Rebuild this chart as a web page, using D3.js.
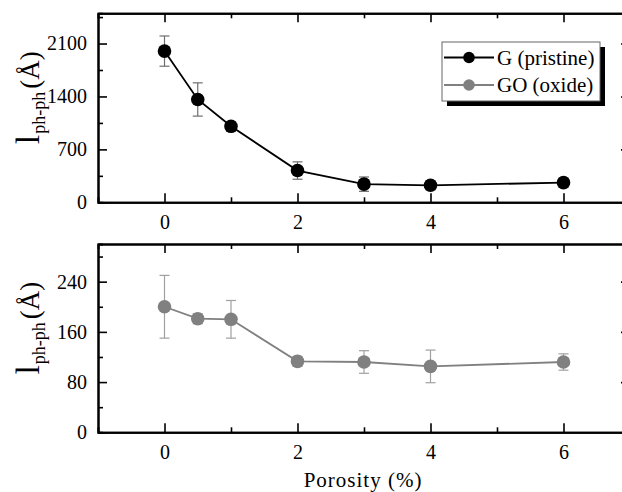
<!DOCTYPE html>
<html>
<head>
<meta charset="utf-8">
<script src="https://cdn.jsdelivr.net/npm/d3@7"></script>
<style>
  body { margin: 0; background: #fff; }
  svg { display: block; }
  svg text { font-family: "Liberation Serif", "Times New Roman", serif; }
  .axis path, .axis line { stroke: #000; }
  .axis path { stroke-width: 2; }
  .axis line { stroke-width: 1.6; }
  .axis text { font-size: 20px; fill: #000; }
</style>
</head>
<body>
<div id="chart"></div>
<script>
// Data
const porosity = [0, 0.5, 1, 2, 3, 4, 6];
const gPristine = [2000, 1360, 1005, 420, 240, 225, 260];
const gPristineErr = [200, 220, 60, 115, 95, 60, 60];
const goOxide = [200, 181, 180, 113, 112, 105, 112];
const goOxideErr = [50, 8, 30, 8, 18, 26, 13];

const xTicks = [0, 2, 4, 6];
const xMinor = [1, 3, 5];
const topTicks = [0, 700, 1400, 2100];
const topMinor = [350, 1050, 1750, 2450];
const bottomTicks = [0, 80, 160, 240];
const bottomMinor = [40, 120, 200, 280];
const legendLabels = ["G (pristine)", "GO (oxide)"];

const width = 622, height = 492;

const svg = d3.select("#chart").append("svg")
  .attr("width", width)
  .attr("height", height);

svg.append("rect").attr("width", width).attr("height", height).attr("fill", "#fff");

const x = d3.scaleLinear().domain([-1, 7]).range([98, 630]);

const panels = [
  { vals: gPristine, errs: gPristineErr, domain: [0, 2500], range: [202.3, 13.3],
    ticks: topTicks, minor: topMinor, line: "#000", fill: "#000", err: "#6e6e6e" },
  { vals: goOxide, errs: goOxideErr, domain: [0, 300], range: [432.3, 244],
    ticks: bottomTicks, minor: bottomMinor, line: "#808080", fill: "#808080", err: "#a0a0a0" }
];

panels.forEach(p => {
  const y = d3.scaleLinear().domain(p.domain).range(p.range);
  const g = svg.append("g");
  const bottom = p.range[0], top = p.range[1];
  const left = x.range()[0], right = x.range()[1];

  // minor ticks
  g.append("g").attr("class", "axis").attr("transform", `translate(0,${bottom})`)
    .call(d3.axisBottom(x).tickValues(xMinor).tickSize(-5).tickFormat(""));
  g.append("g").attr("class", "axis").attr("transform", `translate(0,${top})`)
    .call(d3.axisTop(x).tickValues(xMinor).tickSize(-5).tickFormat(""));
  g.append("g").attr("class", "axis").attr("transform", `translate(${left},0)`)
    .call(d3.axisLeft(y).tickValues(p.minor).tickSize(-5).tickFormat(""));
  g.append("g").attr("class", "axis").attr("transform", `translate(${right},0)`)
    .call(d3.axisRight(y).tickValues(p.minor).tickSize(-5).tickFormat(""));

  // major axes
  g.append("g").attr("class", "axis").attr("transform", `translate(0,${bottom})`)
    .call(d3.axisBottom(x).tickValues(xTicks).tickSizeInner(-9).tickSizeOuter(0).tickPadding(13).tickFormat(d3.format("d")));
  g.append("g").attr("class", "axis").attr("transform", `translate(0,${top})`)
    .call(d3.axisTop(x).tickValues(xTicks).tickSizeInner(-9).tickSizeOuter(0).tickFormat(""));
  g.append("g").attr("class", "axis").attr("transform", `translate(${left},0)`)
    .call(d3.axisLeft(y).tickValues(p.ticks).tickSizeInner(-9).tickSizeOuter(0).tickPadding(11).tickFormat(d3.format("d")));
  g.append("g").attr("class", "axis").attr("transform", `translate(${right},0)`)
    .call(d3.axisRight(y).tickValues(p.ticks).tickSizeInner(-9).tickSizeOuter(0).tickFormat(""));

  const data = porosity.map((v, i) => ({ x: v, y: p.vals[i], e: p.errs[i] }));

  // error bars
  const eb = g.append("g").attr("stroke", p.err).attr("stroke-width", 1.2);
  data.forEach(d => {
    const cx = x(d.x), y1 = y(d.y + d.e), y2 = y(d.y - d.e);
    eb.append("line").attr("x1", cx).attr("x2", cx).attr("y1", y1).attr("y2", y2);
    eb.append("line").attr("x1", cx - 5).attr("x2", cx + 5).attr("y1", y1).attr("y2", y1);
    eb.append("line").attr("x1", cx - 5).attr("x2", cx + 5).attr("y1", y2).attr("y2", y2);
  });

  const line = d3.line().x(d => x(d.x)).y(d => y(d.y));
  g.append("path").datum(data)
    .attr("fill", "none")
    .attr("stroke", p.line)
    .attr("stroke-width", 1.8)
    .attr("d", line);

  g.selectAll("circle").data(data).join("circle")
    .attr("cx", d => x(d.x))
    .attr("cy", d => y(d.y))
    .attr("r", 6.8)
    .attr("fill", p.fill);

  // y label
  const cy = (top + bottom) / 2 - 10;
  const lab = g.append("text")
    .attr("transform", `translate(39,${cy}) rotate(-90)`)
    .attr("text-anchor", "middle")
    .attr("fill", "#000");
  lab.append("tspan").attr("font-size", 34).text("l");
  lab.append("tspan").attr("font-size", 18).attr("dy", 6).attr("dx", 1).text("ph-ph");
  lab.append("tspan").attr("font-size", 27).attr("dy", -6).attr("dx", 3).text("(Å)");
});

// x label
svg.append("text")
  .attr("x", 363).attr("y", 487)
  .attr("text-anchor", "middle")
  .attr("font-size", 21)
  .attr("letter-spacing", 1)
  .text("Porosity (%)");

// legend
const legend = svg.append("g");
legend.append("rect").attr("x", 447).attr("y", 47).attr("width", 158).attr("height", 59).attr("fill", "#000");
legend.append("rect").attr("x", 442).attr("y", 42).attr("width", 158).attr("height", 59)
  .attr("fill", "#fff").attr("stroke", "#666").attr("stroke-width", 1);
legendLabels.forEach((t, i) => {
  const ly = 57.5 + i * 27.5;
  const c = panels[i].line;
  legend.append("line").attr("x1", 444).attr("x2", 494).attr("y1", ly).attr("y2", ly)
    .attr("stroke", c).attr("stroke-width", 1.8);
  legend.append("circle").attr("cx", 469).attr("cy", ly).attr("r", 5.8).attr("fill", panels[i].fill);
  legend.append("text").attr("x", 497).attr("y", ly + 7).attr("font-size", 21).text(t);
});
</script>
</body>
</html>
